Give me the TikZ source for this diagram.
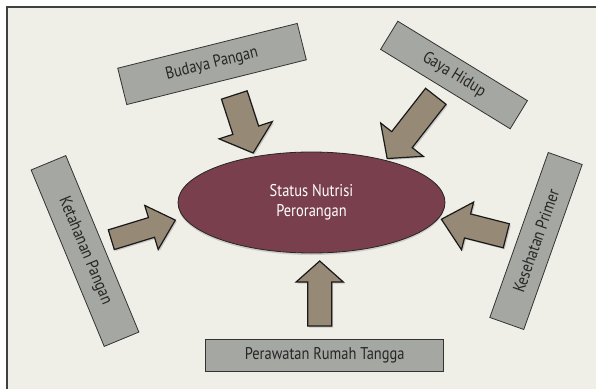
\documentclass[tikz,border=0pt]{standalone}
\usepackage{fontspec}
\setmainfont{PT Sans}[FakeStretch=0.85]
\usetikzlibrary{shapes.geometric,shadows}

\definecolor{latar}{RGB}{239,238,231}
\definecolor{abu}{RGB}{165,167,162}
\definecolor{coklat}{RGB}{150,137,117}
\definecolor{marun}{RGB}{122,63,77}

\tikzset{
  kotak/.style={rectangle,draw=black!80,fill=abu,line width=.8pt,inner sep=0pt,
    text=black!85,font=\fontsize{17}{20}\selectfont},
  panahblok/.style={draw=black!90,fill=coklat,line width=1.2pt,line join=miter,
    drop shadow={opacity=.35,shadow xshift=1.5pt,shadow yshift=-1.5pt}},
  pusat/.style={ellipse,draw=black!85,fill=marun,line width=.8pt,inner sep=0pt,
    text=white,align=center,font=\fontsize{17}{20}\selectfont,
    drop shadow={opacity=.3,shadow xshift=0pt,shadow yshift=-2pt}}
}

\newcommand{\panah}[6]{%
  \begin{scope}[shift={(#1)},rotate=#2]
    \draw[panahblok] (0,-#4) -- (#3-#6,-#4) -- (#3-#6,-#5) -- (#3,0)
      -- (#3-#6,#5) -- (#3-#6,#4) -- (0,#4) -- cycle;
  \end{scope}}

\begin{document}
\begin{tikzpicture}[x=1pt,y=-1pt]
    \useasboundingbox (0,0) rectangle (596,388);
    \fill[white] (0,0) rectangle (596,388);
    \draw[fill=latar,draw=black!75,line width=1.2pt] (7,7) rectangle (610,400);

    \draw (311.5,202.5) node[pusat,minimum width=267,minimum height=101]
      (status) {Status Nutrisi\\Perorangan};

    \draw (212,64) node[kotak,rotate=14,minimum width=185,minimum height=37.5]
      (budaya) {Budaya Pangan};
    \draw (454,75) node[kotak,rotate=-31.5,minimum width=152,minimum height=33]
      (gaya) {Gaya Hidup};
    \draw (85,251) node[kotak,rotate=-67.5,minimum width=191,minimum height=37.5]
      (ketahanan) {Ketahanan Pangan};
    \draw (536,241) node[kotak,rotate=70.5,minimum width=175,minimum height=36]
      (kesehatan) {Kesehatan Primer};
    \draw (324.7,355.5) node[kotak,minimum width=238,minimum height=32.5]
      (perawatan) {Perawatan Rumah Tangga};

    \panah{234.3,95}{-72}{61}{13.5}{28}{24}
    \panah{435.8,96.3}{-128}{79}{13}{27}{24}
    \panah{111.3,239.7}{17}{67}{10.3}{23}{25}
    \panah{506.3,235.8}{165.7}{67}{12.4}{24.6}{27}
    \panah{319.7,326}{90}{65}{12}{23.6}{21}
\end{tikzpicture}
\end{document}
